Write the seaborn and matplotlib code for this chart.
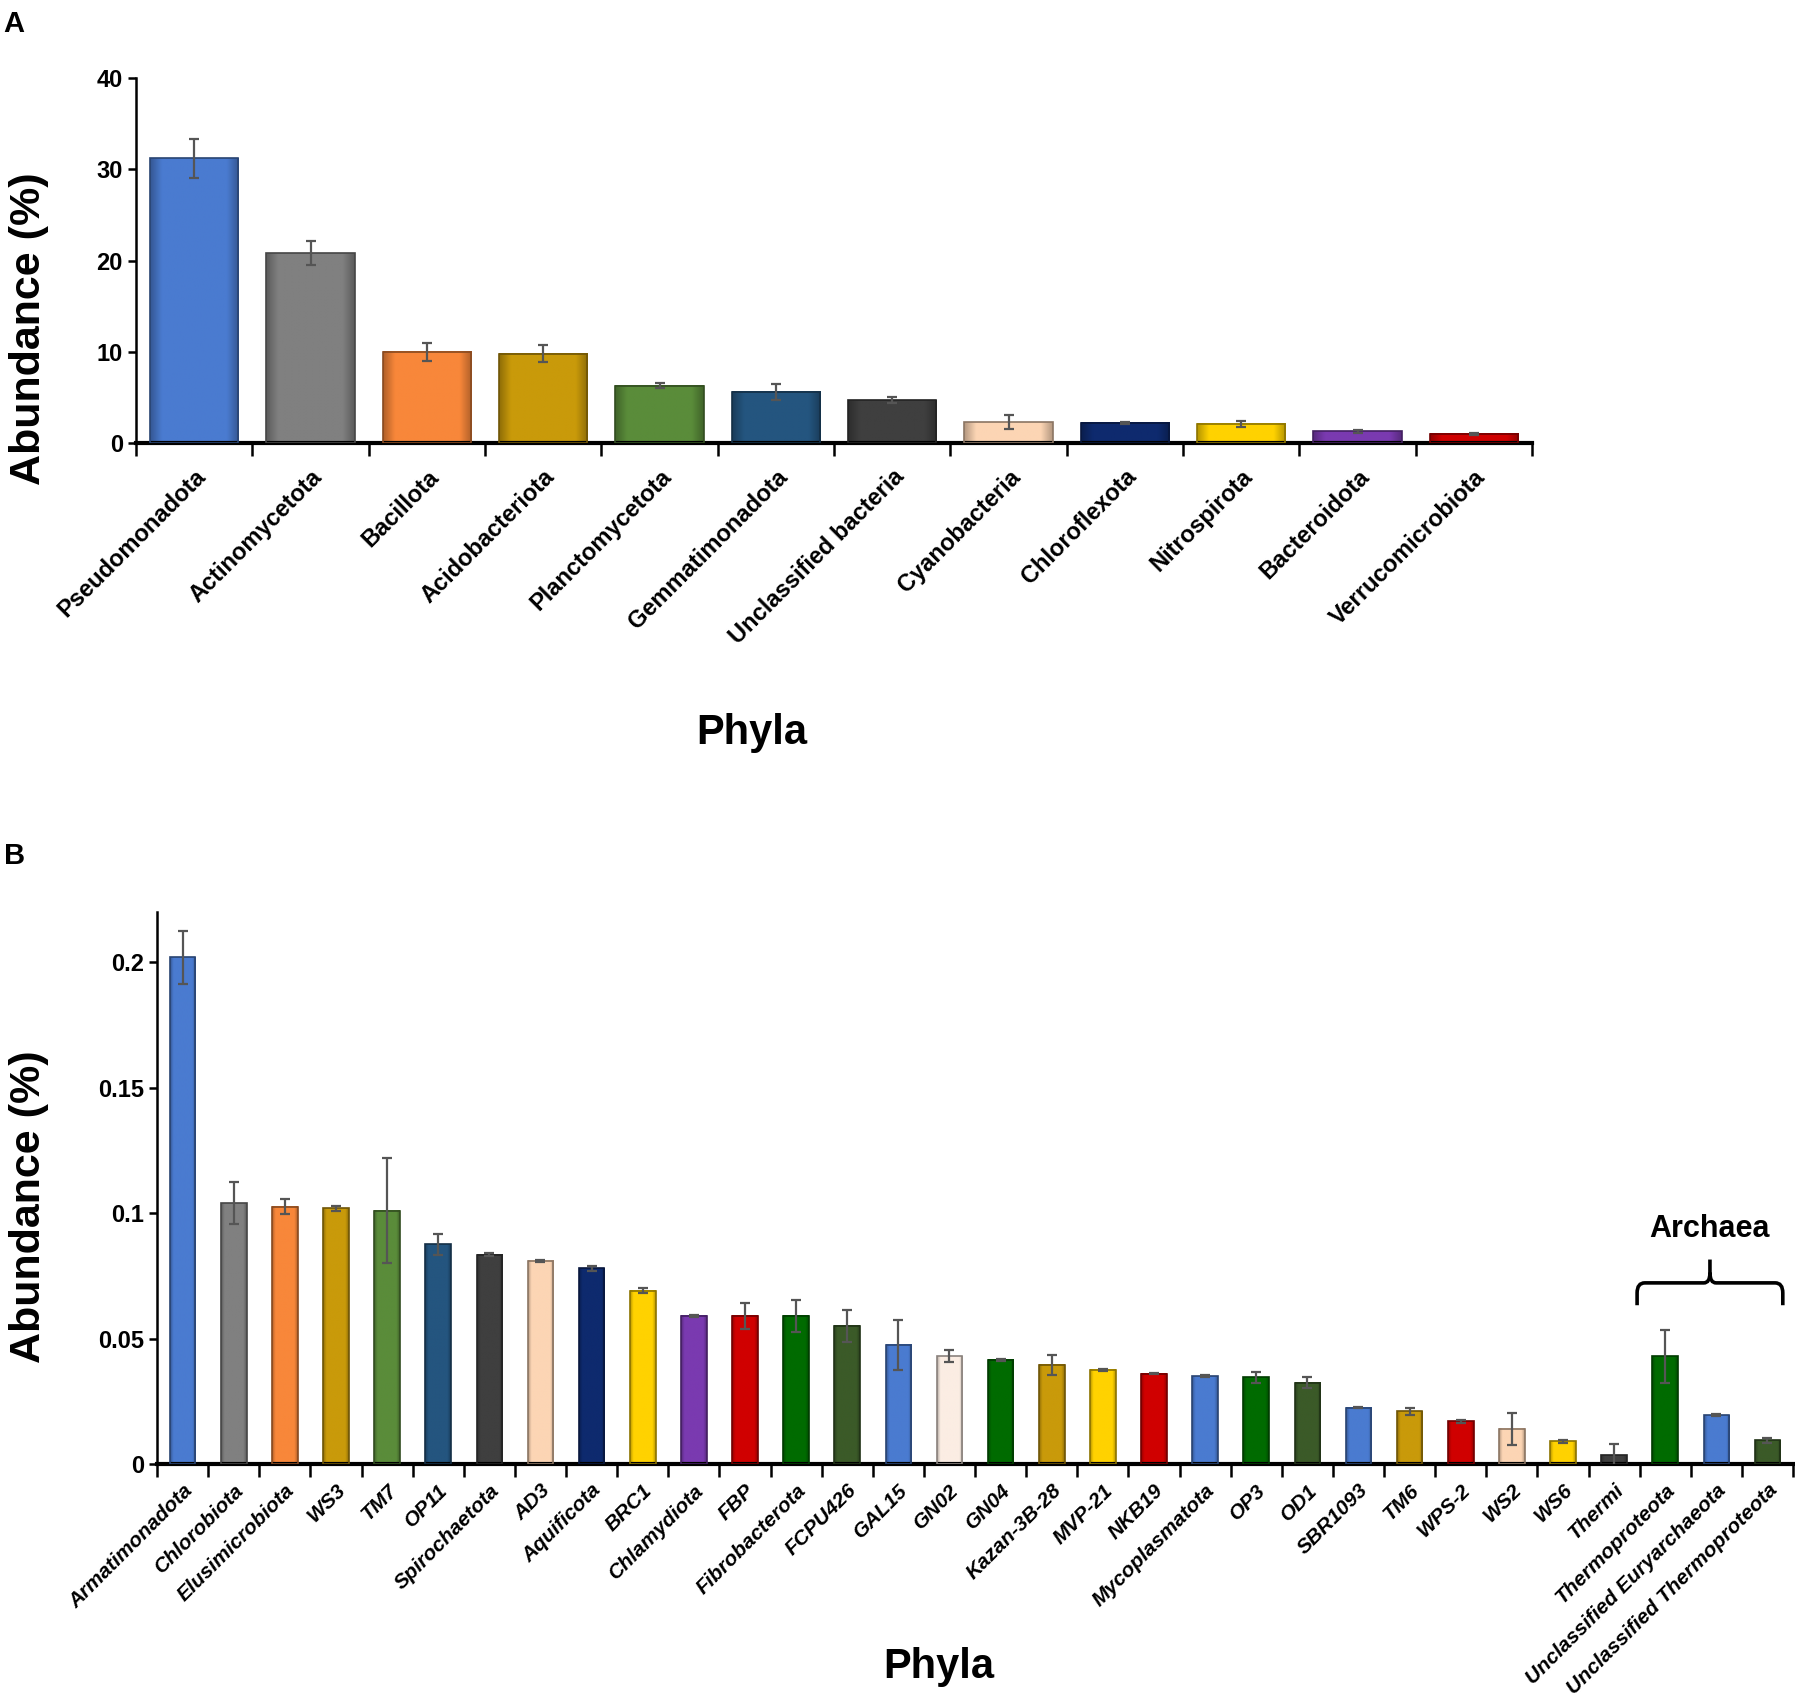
import numpy as np
import pandas as pd
import matplotlib
matplotlib.use("Agg")
import matplotlib.pyplot as plt
import matplotlib.colors as mcolors
from matplotlib.path import Path
from matplotlib.patches import PathPatch
import seaborn as sns

# ---- panel A data ----
phyla_a = ['Pseudomonadota', 'Actinomycetota', 'Bacillota', 'Acidobacteriota',
           'Planctomycetota', 'Gemmatimonadota', 'Unclassified bacteria',
           'Cyanobacteria', 'Chloroflexota', 'Nitrospirota', 'Bacteroidota',
           'Verrucomicrobiota']
abund_a = [31.2, 20.8, 10.0, 9.8, 6.3, 5.6, 4.7, 2.3, 2.2, 2.1, 1.3, 1.0]
err_a = [2.1, 1.3, 1.0, 0.9, 0.3, 0.9, 0.3, 0.8, 0.1, 0.3, 0.15, 0.15]
colors_a = ['#4A7BD0', '#808080', '#F8873A', '#C99A0A', '#5A8C3A', '#24557F',
            '#3F3F3F', '#FCD5B4', '#0E2A6E', '#FFD200', '#7A3AB0', '#D00000']

# ---- panel B data ----
phyla_b = ['Armatimonadota', 'Chlorobiota', 'Elusimicrobiota', 'WS3', 'TM7', 'OP11',
           'Spirochaetota', 'AD3', 'Aquificota', 'BRC1', 'Chlamydiota', 'FBP',
           'Fibrobacterota', 'FCPU426', 'GAL15', 'GN02', 'GN04', 'Kazan-3B-28',
           'MVP-21', 'NKB19', 'Mycoplasmatota', 'OP3', 'OD1', 'SBR1093', 'TM6',
           'WPS-2', 'WS2', 'WS6', 'Thermi', 'Thermoproteota',
           'Unclassified Euryarchaeota', 'Unclassified Thermoproteota']
abund_b = [0.202, 0.104, 0.1025, 0.102, 0.101, 0.0875, 0.0835, 0.081, 0.078, 0.069,
           0.059, 0.059, 0.059, 0.055, 0.0475, 0.043, 0.0415, 0.0395, 0.0375, 0.036,
           0.035, 0.0345, 0.0325, 0.0225, 0.021, 0.017, 0.014, 0.009, 0.0035, 0.043,
           0.0195, 0.0095]
err_b = [0.0105, 0.0085, 0.003, 0.001, 0.021, 0.004, 0.0005, 0.0005, 0.001, 0.001,
         0.0003, 0.005, 0.0065, 0.0065, 0.010, 0.0025, 0.0005, 0.004, 0.0005, 0.0003,
         0.0004, 0.002, 0.002, 0.0003, 0.0015, 0.0005, 0.0065, 0.0005, 0.0045, 0.0105,
         0.0005, 0.001]
colors_b = ['#4A7BD0', '#808080', '#F8873A', '#C99A0A', '#5A8C3A', '#24557F',
            '#3F3F3F', '#FCD5B4', '#0E2A6E', '#FFD200', '#7A3AB0', '#D00000',
            '#006B00', '#3B5A28', '#4A7BD0', '#FBEDE3', '#006B00', '#C99A0A',
            '#FFD200', '#D00000', '#4A7BD0', '#006B00', '#3B5A28', '#4A7BD0',
            '#C99A0A', '#D00000', '#FCD5B4', '#FFD200', '#3F3F3F', '#006B00',
            '#4A7BD0', '#3B5A28']

sns.set_style("ticks")
plt.rcParams['font.family'] = ['Liberation Sans', 'DejaVu Sans']
for k in ['text.color', 'axes.labelcolor', 'xtick.color', 'ytick.color',
          'axes.edgecolor']:
    plt.rcParams[k] = 'black'
narrow = ['Liberation Sans Narrow', 'Liberation Sans', 'DejaVu Sans']

fig = plt.figure(figsize=(17.95, 17.04), dpi=100)
ax_a = fig.add_axes([0.0758, 0.740, 0.7777, 0.2142])
ax_b = fig.add_axes([0.0875, 0.1408, 0.9114, 0.324])


def shade(ax, patch, color):
    # bevel-like shading across each bar: darker sides, lighter middle
    rgb = np.array(mcolors.to_rgb(color))
    t = np.linspace(0, 1, 60)
    prof = np.ones_like(t)
    edge = 0.13
    prof = np.where(t < edge, 0.72 + 0.28 * t / edge, prof)
    prof = np.where(t > 1 - edge, 0.72 + 0.28 * (1 - t) / edge, prof)
    img = np.clip(rgb[None, :] * prof[:, None], 0, 1)[None, :, :]
    x0, w, h = patch.get_x(), patch.get_width(), patch.get_height()
    ax.imshow(img, extent=(x0, x0 + w, 0, h), aspect='auto', zorder=2,
              interpolation='bilinear', origin='lower')


def draw_panel(ax, names, vals, errs, cols, width, ylim):
    df = pd.DataFrame({'phylum': names, 'abund': vals})
    sns.barplot(data=df, x='phylum', y='abund', hue='phylum', palette=cols,
                legend=False, width=width, ax=ax, saturation=1)
    for p, c in zip(list(ax.patches), cols):
        rgb = np.array(mcolors.to_rgb(c))
        p.set_edgecolor(tuple(rgb * 0.55))
        p.set_linewidth(1.2)
        p.set_zorder(3)
        p.set_facecolor('none')
        shade(ax, p, c)
    ax.errorbar(np.arange(len(names)), vals, yerr=errs, fmt='none',
                ecolor='#555555', elinewidth=1.6, capsize=3.5, capthick=1.6,
                zorder=5)
    n = len(names)
    ax.set_xlim(-0.5, n - 0.5)
    ax.set_ylim(*ylim)
    ax.set_xticks(np.arange(-0.5, n, 1.0))
    ax.set_xticklabels([])
    ax.set_xticks(np.arange(n), minor=True)
    ax.tick_params(axis='x', which='major', direction='out', length=9, width=1.8,
                   color='black')
    ax.tick_params(axis='x', which='minor', length=0)
    ax.tick_params(axis='y', direction='out', length=6, width=1.8, color='black')
    sns.despine(ax=ax)
    ax.spines['bottom'].set_linewidth(3)
    ax.spines['left'].set_linewidth(1.8)
    ax.set_xlabel('')
    ax.set_ylabel('')


# ---- panel A ----
draw_panel(ax_a, phyla_a, abund_a, err_a, colors_a, 0.76, (0, 40))
ax_a.set_yticks([0, 10, 20, 30, 40])
ax_a.set_yticklabels(['0', '10', '20', '30', '40'], family=narrow,
                     fontweight='bold', fontsize=17)
ax_a.set_xticklabels(phyla_a, minor=True, rotation=45, ha='right', va='top',
                     rotation_mode='anchor', fontweight='bold', fontsize=17)
ax_a.tick_params(axis='x', which='minor', pad=16)

# ---- panel B ----
draw_panel(ax_b, phyla_b, abund_b, err_b, colors_b, 0.5, (0, 0.22))
ax_b.set_yticks([0, 0.05, 0.1, 0.15, 0.2])
ax_b.set_yticklabels(['0', '0.05', '0.1', '0.15', '0.2'], family=narrow,
                     fontweight='bold', fontsize=17)
ax_b.set_xticklabels(phyla_b, minor=True, rotation=45, ha='right', va='top',
                     rotation_mode='anchor', fontweight='bold', fontstyle='italic',
                     fontsize=15)
ax_b.tick_params(axis='x', which='minor', pad=12)

# axis titles
fig.text(0.016, 0.807, 'Abundance (%)', rotation=90, ha='center', va='center',
         fontsize=31, fontweight='bold')
fig.text(0.016, 0.292, 'Abundance (%)', rotation=90, ha='center', va='center',
         fontsize=31, fontweight='bold')
fig.text(0.419, 0.570, 'Phyla', ha='center', va='center', fontsize=30,
         fontweight='bold')
fig.text(0.523, 0.0215, 'Phyla', ha='center', va='center', fontsize=30,
         fontweight='bold')

# Archaea brace
xl, xr = 28.45, 31.3
xm = (xl + xr) / 2
yb, yh, yt = 0.0633, 0.0722, 0.0815
r = 0.004
verts = [(xl, yb), (xl, yh - r), (xl, yh), (xl + 0.15, yh),
         (xm - 0.12, yh), (xm, yh), (xm, yh + r), (xm, yt),
         (xm, yh + r), (xm, yh), (xm + 0.12, yh),
         (xr - 0.15, yh), (xr, yh), (xr, yh - r), (xr, yb)]
codes = [Path.MOVETO, Path.LINETO, Path.CURVE3, Path.CURVE3,
         Path.LINETO, Path.CURVE3, Path.CURVE3, Path.LINETO,
         Path.MOVETO, Path.CURVE3, Path.CURVE3,
         Path.LINETO, Path.CURVE3, Path.CURVE3, Path.LINETO]
ax_b.add_patch(PathPatch(Path(verts, codes), fill=False, lw=2.6, color='black',
                         clip_on=False))
ax_b.text(xm, 0.0875, 'Archaea', ha='center', va='bottom', fontsize=22,
          fontweight='bold', family=narrow)

fig.text(0.002, 0.994, 'A', fontsize=21, fontweight='bold', va='top')
fig.text(0.002, 0.506, 'B', fontsize=21, fontweight='bold', va='top')

fig.savefig('out.png', dpi=100, facecolor='white')
